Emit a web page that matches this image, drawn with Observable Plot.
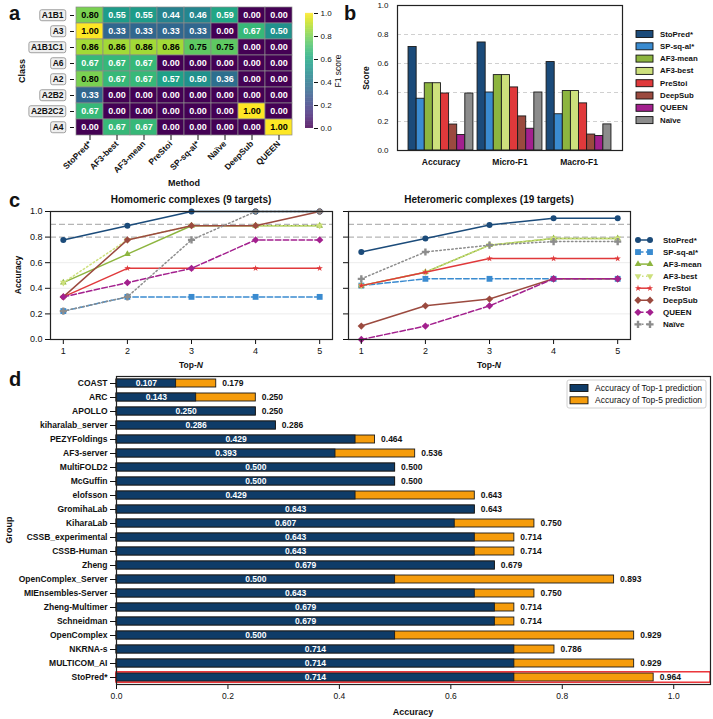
<!DOCTYPE html>
<html><head><meta charset="utf-8">
<script src="https://cdn.jsdelivr.net/npm/d3@7"></script>
<script src="https://cdn.jsdelivr.net/npm/@observablehq/plot@0.6"></script>
<style>
body{margin:0;background:#fff;}
#fig{position:relative;width:713px;height:719px;overflow:hidden;background:#fff;font-family:'Liberation Sans',Arial,Helvetica,sans-serif;}
.pd g[aria-label="y-axis tick label"] text{font-weight:bold;}
</style></head><body><div id="fig"></div>
<script>
// ---------- DATA ----------
const heatClasses = ["A1B1","A3","A1B1C1","A6","A2","A2B2","A2B2C2","A4"];
const heatMethods = ["StoPred*","AF3-best","AF3-mean","PreStoi","SP-sq-al*","Naïve","DeepSub","QUEEN"];
const heatValues = [
  [0.80,0.55,0.55,0.44,0.46,0.59,0.00,0.00],
  [1.00,0.33,0.33,0.33,0.33,0.00,0.67,0.50],
  [0.86,0.86,0.86,0.86,0.75,0.75,0.00,0.00],
  [0.67,0.67,0.67,0.00,0.00,0.00,0.00,0.00],
  [0.80,0.67,0.67,0.57,0.50,0.36,0.00,0.00],
  [0.33,0.00,0.00,0.00,0.00,0.00,0.00,0.00],
  [0.67,0.00,0.00,0.00,0.00,0.00,1.00,0.00],
  [0.00,0.67,0.67,0.00,0.00,0.00,0.00,1.00]
];
const colorbarTicks = [0,0.2,0.4,0.6,0.8,1.0];

const methods = ["StoPred*","SP-sq-al*","AF3-mean","AF3-best","PreStoi","DeepSub","QUEEN","Naïve"];
const methodColors = ["#1b4b7a","#3a8bd0","#8db53f","#cde07c","#e0393b","#9b4a3f","#a3208e","#8c8c8c"];
const methodDash = [null,"5.5,2.4",null,"1.5,2.5",null,null,"5.5,2.4","1.5,2.5"];
const metrics = ["Accuracy","Micro-F1","Macro-F1"];
const accuracyScores = [0.714,0.357,0.464,0.464,0.393,0.179,0.107,0.393];
const microF1Scores  = [0.745,0.400,0.520,0.520,0.435,0.235,0.150,0.400];
const macroF1Scores  = [0.610,0.250,0.410,0.410,0.325,0.110,0.100,0.180];
const scoreTicks = [0,0.2,0.4,0.6,0.8,1.0];

const topN = [1,2,3,4,5];
const homomericAcc = [
  [0.778,0.889,1.000,1.000,1.000],
  [0.222,0.333,0.333,0.333,0.333],
  [0.444,0.667,0.889,0.889,0.889],
  [0.444,0.778,0.889,0.889,0.889],
  [0.333,0.556,0.556,0.556,0.556],
  [0.333,0.778,0.889,0.889,1.000],
  [0.333,0.444,0.556,0.778,0.778],
  [0.222,0.333,0.778,1.000,1.000]
];
const heteromericAcc = [
  [0.684,0.789,0.895,0.947,0.947],
  [0.421,0.474,0.474,0.474,0.474],
  [0.421,0.526,0.737,0.789,0.789],
  [0.421,0.526,0.737,0.789,0.789],
  [0.421,0.526,0.632,0.632,0.632],
  [0.105,0.263,0.316,0.474,0.474],
  [0.000,0.105,0.263,0.474,0.474],
  [0.474,0.684,0.737,0.765,0.765]
];
const accTicks = [0,0.2,0.4,0.6,0.8,1.0];
const refLines = [0.8,0.9];

const groupNames = ["COAST","ARC","APOLLO","kiharalab_server","PEZYFoldings","AF3-server","MultiFOLD2","McGuffin","elofsson","GromihaLab","KiharaLab","CSSB_experimental","CSSB-Human","Zheng","OpenComplex_Server","MIEnsembles-Server","Zheng-Multimer","Schneidman","OpenComplex","NKRNA-s","MULTICOM_AI","StoPred*"];
const top1Acc = [0.107,0.143,0.250,0.286,0.429,0.393,0.500,0.500,0.429,0.643,0.607,0.643,0.643,0.679,0.500,0.643,0.679,0.679,0.500,0.714,0.714,0.714];
const top5Acc = [0.179,0.250,0.250,0.286,0.464,0.536,0.500,0.500,0.643,0.643,0.750,0.714,0.714,0.679,0.893,0.750,0.714,0.714,0.929,0.786,0.929,0.964];
const highlightGroup = "StoPred*";
const groupTicks = [0,0.2,0.4,0.6,0.8,1.0];
const legendD = ["Accuracy of Top-1 prediction","Accuracy of Top-5 prediction"];
const top1Color = "#0f3c68", top5Color = "#f59c0c";

// ---------- HELPERS ----------
const FONT = "'Liberation Sans', Arial, Helvetica, sans-serif";
const fig = document.getElementById("fig");
function place(node, left, top){
  const w = document.createElement("div");
  w.style.position="absolute"; w.style.left=left+"px"; w.style.top=top+"px";
  w.appendChild(node); fig.appendChild(w); return node;
}
const baseStyle = {fontFamily: FONT, fontSize:"9px", background:"transparent", overflow:"visible", color:"#111"};
const triDown = {draw(context, size){
  const y = -Math.sqrt(size/(Math.sqrt(3)*3));
  context.moveTo(0,-y*2); context.lineTo(-Math.sqrt(3)*y, y); context.lineTo(Math.sqrt(3)*y, y); context.closePath();
}};
const methodSymbols = ["circle","square","triangle",triDown,"star","diamond2","diamond2","cross"];
const methodR = [3.0,3.3,2.5,2.5,2.0,3.3,3.3,3.0];

// ---------- PANEL A: heatmap ----------
const heatCells = heatClasses.flatMap((c,ri)=>heatMethods.map((m,ci)=>({cls:c, method:m, value:heatValues[ri][ci]})));
const heat = Plot.plot({
  width:300, height:195, marginLeft:74, marginRight:6, marginTop:7, marginBottom:60,
  style:{...baseStyle, fontSize:"8.5px", fontWeight:"bold"},
  x:{domain:heatMethods, padding:0},
  y:{domain:heatClasses, padding:0},
  color:{type:"linear", scheme:"viridis", domain:[0,1]},
  marks:[
    Plot.cell(heatCells,{x:"method", y:"cls", fill:"value", stroke:"#8a8a8a", strokeWidth:0.7}),
    Plot.text(heatCells,{filter:d=>d.value>0.7, x:"method", y:"cls", text:d=>d.value.toFixed(2), fill:"black", fontSize:9}),
    Plot.text(heatCells,{filter:d=>d.value<=0.7, x:"method", y:"cls", text:d=>d.value.toFixed(2), fill:"white", fontSize:9}),
    Plot.axisX({tickRotate:-45, tickSize:5, tickPadding:2, label:null}),
    Plot.axisY({tickSize:4, tickPadding:7, label:null})
  ]
});
place(heat,0,0);
heat.querySelectorAll('g[aria-label="y-axis tick label"] text').forEach(t=>{
  const b = t.getBBox();
  const r = document.createElementNS("http://www.w3.org/2000/svg","rect");
  r.setAttribute("x", b.x-2); r.setAttribute("y", b.y-0.5);
  r.setAttribute("width", b.width+4); r.setAttribute("height", b.height+1);
  r.setAttribute("rx",2); r.setAttribute("fill","#efefef"); r.setAttribute("stroke","#8c8c8c"); r.setAttribute("stroke-width","0.8");
  if (t.getAttribute("transform")) r.setAttribute("transform", t.getAttribute("transform"));
  t.parentNode.insertBefore(r,t);
});

// colorbar
const cbSteps = d3.range(0,1,0.005);
const cbar = Plot.plot({
  width:45, height:140, marginLeft:5, marginRight:32, marginTop:13, marginBottom:12,
  style:{...baseStyle, fontSize:"8px"},
  x:{domain:[0,1], axis:null},
  y:{domain:[0,1]},
  color:{type:"linear", scheme:"viridis", domain:[0,1]},
  marks:[
    Plot.rect(cbSteps,{x1:0,x2:1,y1:d=>d,y2:d=>d+0.006,fill:d=>d}),
    Plot.axisY({anchor:"right", ticks:colorbarTicks, tickFormat:".1f", tickSize:4, tickPadding:3, label:null})
  ]
});
place(cbar,300,0);

// ---------- PANEL B: grouped bars ----------
const scoreLists = [accuracyScores, microF1Scores, macroF1Scores];
const bw = 0.1175;
const barRows = metrics.flatMap((m,gi)=>methods.map((meth,mi)=>({metric:m, gi, mi, method:meth, value:scoreLists[gi][mi]})));
const pb = Plot.plot({
  width:280, height:175, marginLeft:47, marginRight:8, marginTop:5, marginBottom:25,
  style:{...baseStyle, fontSize:"8px"},
  x:{domain:[-0.63,2.63], axis:null},
  y:{domain:[0,1]},
  color:{domain:methods, range:methodColors},
  marks:[
    Plot.ruleY([0.2,0.4,0.6,0.8],{stroke:"#d0d0d0", strokeDasharray:"4,3"}),
    Plot.rectY(barRows,{x1:d=>d.gi+(d.mi-4)*bw, x2:d=>d.gi+(d.mi-3)*bw, y1:0, y2:"value", fill:"method", stroke:"#1a1a1a", strokeWidth:0.9}),
    Plot.axisY({ticks:scoreTicks, tickFormat:".1f", tickSize:0, tickPadding:9, label:null}),
    Plot.text(metrics,{x:(d,i)=>i, frameAnchor:"bottom", dy:14, text:d=>d, fontWeight:"bold", fontSize:8.5}),
    Plot.frame({stroke:"#222", strokeWidth:1.2})
  ]
});
place(pb,350,0);

// ---------- PANEL C: line charts ----------
function accPlot(data, showLabels, w, ml, mr){
  const marks = [
    Plot.ruleY([0.2,0.4,0.6],{stroke:"#ececec"}),
    Plot.ruleY(refLines,{stroke:"#b5b5b5", strokeDasharray:"6,3", strokeWidth:1.3})
  ];
  methods.forEach((m,i)=>{
    const pts = topN.map((n,j)=>({n, v:data[i][j]}));
    marks.push(Plot.line(pts,{x:"n", y:"v", stroke:methodColors[i], strokeWidth:1.5, strokeDasharray:methodDash[i]}));
    marks.push(Plot.dot(pts,{x:"n", y:"v", symbol:methodSymbols[i], fill:methodColors[i], stroke:"none", r:methodR[i]}));
  });
  marks.push(Plot.axisX({ticks:topN, tickFormat:"d", tickSize:5, tickPadding:3, label:null}));
  marks.push(Plot.axisY({ticks:accTicks, tickFormat: showLabels ? ".1f" : ()=>"", tickSize:5, tickPadding:3, label:null}));
  marks.push(Plot.frame({stroke:"#222", strokeWidth:1.2}));
  return Plot.plot({
    width:w, height:195, marginLeft:ml, marginRight:mr, marginTop:26, marginBottom:41,
    style:{...baseStyle, fontSize:"9px"},
    x:{domain:[0.8,5.2]}, y:{domain:[0,1]},
    symbol:{type:"identity"},
    marks
  });
}
place(accPlot(homomericAcc,true,340,50,8),0,185);
place(accPlot(heteromericAcc,false,300,8,10),340,185);

// ---------- PANEL D: horizontal bars ----------
const dRows = groupNames.map((g,i)=>({group:g, top1:top1Acc[i], top5:top5Acc[i]}));
const xMaxD = 1.066;
const pd = Plot.plot({
  className:"pd",
  width:713, height:349, marginLeft:116, marginRight:3, marginTop:6, marginBottom:35,
  style:{...baseStyle, fontSize:"8.5px"},
  x:{domain:[0,xMaxD]},
  y:{domain:groupNames, paddingInner:0.4, paddingOuter:0.2},
  marks:[
    Plot.barX(dRows,{y:"group", x1:0, x2:"top5", fill:top5Color, stroke:"#1a1a1a", strokeWidth:0.9}),
    Plot.barX(dRows,{y:"group", x1:0, x2:"top1", fill:top1Color, stroke:"#1a1a1a", strokeWidth:0.9}),
    Plot.barX(dRows,{filter:d=>d.group===highlightGroup, y:"group", x1:0, x2:()=>xMaxD, fill:"none", stroke:"#e8161b", strokeWidth:1.3, insetTop:-1.2, insetBottom:-1.2}),
    Plot.text(dRows,{y:"group", x:d=>d.top1/2, text:d=>d.top1.toFixed(3), fill:"white", fontWeight:"bold"}),
    Plot.text(dRows,{y:"group", x:"top5", dx:6, textAnchor:"start", text:d=>d.top5.toFixed(3), fill:"#111", fontWeight:"bold"}),
    Plot.axisY({tickSize:6, tickPadding:3, label:null}),
    Plot.axisX({ticks:groupTicks, tickFormat:".1f", tickSize:5, tickPadding:3, label:null}),
    Plot.frame({stroke:"#222", strokeWidth:1.2})
  ]
});
place(pd,0,370);

// ---------- OVERLAY: labels & legends ----------
const ov = d3.create("svg").attr("width",713).attr("height",719)
  .style("position","absolute").style("left","0px").style("top","0px")
  .style("font-family",FONT).style("overflow","visible");
fig.appendChild(ov.node());
function label(x,y,txt,{size=9,weight="bold",rotate=false,anchor="middle"}={}){
  const t = ov.append("text").attr("text-anchor",anchor).attr("font-size",size).attr("font-weight",weight).attr("fill","#111");
  if (rotate) t.attr("transform",`translate(${x},${y}) rotate(-90)`).attr("dominant-baseline","central");
  else t.attr("x",x).attr("y",y);
  t.text(txt); return t;
}
label(9,20,"a",{size:20,anchor:"start"});
label(344,20,"b",{size:20,anchor:"start"});
label(9,207,"c",{size:20,anchor:"start"});
label(9,386,"d",{size:20,anchor:"start"});
label(22,71,"Class",{size:9,rotate:true});
label(184,186,"Method",{size:9});
label(338,71,"F1 score",{size:8.5,weight:"normal",rotate:true});
label(366,78,"Score",{size:8.5,rotate:true});
label(191,203,"Homomeric complexes (9 targets)",{size:10});
label(489,203,"Heteromeric complexes (19 targets)",{size:10});
label(18,275,"Accuracy",{size:8.5,rotate:true});
[191,489].forEach(cx=>{
  const t = ov.append("text").attr("x",cx).attr("y",368).attr("text-anchor","middle").attr("font-size",8.5).attr("font-weight","bold").attr("fill","#111");
  t.append("tspan").text("Top-"); t.append("tspan").attr("font-style","italic").text("N");
});
label(9,530,"Group",{size:9,rotate:true});
label(413,715,"Accuracy",{size:9});

// legend b
methods.forEach((m,i)=>{
  const cy = 34 + i*12.3;
  ov.append("rect").attr("x",636).attr("y",cy-3.5).attr("width",17).attr("height",7).attr("fill",methodColors[i]).attr("stroke","#111").attr("stroke-width",0.9);
  ov.append("text").attr("x",660).attr("y",cy).attr("dominant-baseline","central").attr("font-size",7.8).attr("font-weight","bold").attr("fill","#111").text(m);
});
// legend c
methods.forEach((m,i)=>{
  const cy = 240 + i*12.05;
  ov.append("line").attr("x1",638).attr("x2",650).attr("y1",cy).attr("y2",cy).attr("stroke",methodColors[i]).attr("stroke-width",1.5).attr("stroke-dasharray",methodDash[i] || null);
  const sym = typeof methodSymbols[i] === "string" ? {circle:d3.symbolCircle,square:d3.symbolSquare,triangle:d3.symbolTriangle,star:d3.symbolStar,diamond2:d3.symbolDiamond2,cross:d3.symbolCross}[methodSymbols[i]] : methodSymbols[i];
  const p = d3.symbol(sym, methodR[i]*methodR[i]*Math.PI)();
  [638,650].forEach(sx=>ov.append("path").attr("d",p).attr("transform",`translate(${sx},${cy})`).attr("fill",methodColors[i]));
  ov.append("text").attr("x",663).attr("y",cy).attr("dominant-baseline","central").attr("font-size",8).attr("font-weight","bold").attr("fill","#111").text(m);
});
// legend d
ov.append("rect").attr("x",567).attr("y",380).attr("width",139).attr("height",28).attr("rx",2).attr("fill","white").attr("stroke","#d0d0d0");
legendD.forEach((m,i)=>{
  const cy = 388 + i*12.3;
  ov.append("rect").attr("x",570).attr("y",cy-3.5).attr("width",18).attr("height",7).attr("fill",i?top5Color:top1Color).attr("stroke","#111").attr("stroke-width",0.9);
  ov.append("text").attr("x",595).attr("y",cy).attr("dominant-baseline","central").attr("font-size",8.5).attr("fill","#111").text(m);
});
</script></body></html>
